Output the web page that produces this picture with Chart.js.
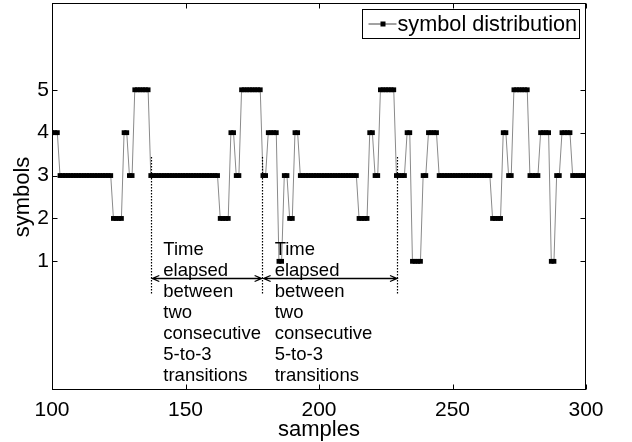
<!DOCTYPE html>
<html>
<head>
<meta charset="utf-8">
<script src="https://cdn.jsdelivr.net/npm/chart.js@4.4.0/dist/chart.umd.min.js"></script>
<style>
html,body{margin:0;padding:0;background:#fff;}
#wrap{width:632px;height:442px;}
</style>
</head>
<body>
<div id="wrap"><canvas id="c" width="632" height="442"></canvas></div>
<script>
'use strict';
// ------------------------------------------------------------
// data
// ------------------------------------------------------------
var firstSample = 100;
var symbols = [
  4,4,4,3,3,3,3,3,3,3,   // 100-109
  3,3,3,3,3,3,3,3,3,3,   // 110-119
  3,3,3,2,2,2,2,4,4,3,   // 120-129
  3,5,5,5,5,5,5,3,3,3,   // 130-139
  3,3,3,3,3,3,3,3,3,3,   // 140-149
  3,3,3,3,3,3,3,3,3,3,   // 150-159
  3,3,3,2,2,2,2,4,4,3,   // 160-169
  3,5,5,5,5,5,5,5,5,3,   // 170-179
  3,4,4,4,4,1,1,3,3,2,   // 180-189
  2,4,4,3,3,3,3,3,3,3,   // 190-199
  3,3,3,3,3,3,3,3,3,3,   // 200-209
  3,3,3,3,3,2,2,2,2,4,   // 210-219
  4,3,3,5,5,5,5,5,5,3,   // 220-229
  3,3,3,4,4,1,1,1,1,3,   // 230-239
  3,4,4,4,4,3,3,3,3,3,   // 240-249
  3,3,3,3,3,3,3,3,3,3,   // 250-259
  3,3,3,3,3,2,2,2,2,4,   // 260-269
  4,3,3,5,5,5,5,5,5,3,   // 270-279
  3,3,3,4,4,4,4,1,1,3,   // 280-289
  3,4,4,4,4,3,3,3,3,3,   // 290-299
  3                      // 300
];
var xTicks = [100, 150, 200, 250, 300];
var yTicks = [1, 2, 3, 4, 5];
var transitions = [137, 178.7, 229.4];   // 5-to-3 transitions marked with dotted lines
var noteText = ['Time', 'elapsed', 'between', 'two', 'consecutive', '5-to-3', 'transitions'];

// ------------------------------------------------------------
var FONT = "'Liberation Sans', Arial, Helvetica, sans-serif";
var points = symbols.map(function(v, i) { return {x: firstSample + i, y: v}; });

// box, inward ticks (matlab look)
var framePlugin = {
  id: 'frame',
  afterDraw: function(chart) {
    var ctx = chart.ctx, a = chart.chartArea, xs = chart.scales.x, ys = chart.scales.y;
    var L = Math.round(a.left) + 0.5, R = Math.round(a.right) - 0.5;
    var T = Math.round(a.top) - 0.5, B = Math.round(a.bottom) - 0.5;
    ctx.save();
    ctx.strokeStyle = '#000'; ctx.lineWidth = 1;
    ctx.strokeRect(L, T, R - L, B - T);
    ctx.beginPath();
    xTicks.forEach(function(t) {
      var px = Math.round(xs.getPixelForValue(t)) + 0.5;
      ctx.moveTo(px, B); ctx.lineTo(px, B - 5);
      ctx.moveTo(px, T); ctx.lineTo(px, T + 5);
    });
    yTicks.forEach(function(t) {
      var py = Math.round(ys.getPixelForValue(t)) + 0.5;
      ctx.moveTo(L, py); ctx.lineTo(L + 5, py);
      ctx.moveTo(R, py); ctx.lineTo(R - 5, py);
    });
    ctx.stroke();
    ctx.restore();
  }
};

function arrowHead(ctx, x, y, dir) {
  ctx.moveTo(x + dir * 7, y - 3);
  ctx.lineTo(x, y);
  ctx.lineTo(x + dir * 7, y + 3);
}

// dotted markers, double arrows and the two text notes
var notesPlugin = {
  id: 'notes',
  afterDatasetsDraw: function(chart) {
    var ctx = chart.ctx, xs = chart.scales.x, ys = chart.scales.y;
    ctx.save();
    ctx.strokeStyle = '#000'; ctx.lineWidth = 1.2;
    ctx.setLineDash([1.5, 1.5]);
    ctx.beginPath();
    transitions.forEach(function(t) {
      var px = Math.round(xs.getPixelForValue(t)) + 0.5;
      ctx.moveTo(px, ys.getPixelForValue(3.43));
      ctx.lineTo(px, ys.getPixelForValue(0.23));
    });
    ctx.stroke();
    ctx.setLineDash([]);
    ctx.lineWidth = 1.3;
    var ay = Math.round(ys.getPixelForValue(0.6)) + 0.5;
    ctx.beginPath();
    for (var i = 0; i < transitions.length - 1; i++) {
      var x1 = xs.getPixelForValue(transitions[i]) + 1.5;
      var x2 = xs.getPixelForValue(transitions[i + 1]) - 0.5;
      ctx.moveTo(x1, ay); ctx.lineTo(x2, ay);
      arrowHead(ctx, x1, ay, 1);
      arrowHead(ctx, x2, ay, -1);
    }
    ctx.stroke();

    ctx.fillStyle = '#000';
    ctx.font = '18.5px ' + FONT;
    ctx.textAlign = 'left'; ctx.textBaseline = 'alphabetic';
    var base = ys.getPixelForValue(1.14);
    for (var k = 0; k < transitions.length - 1; k++) {
      var tx = xs.getPixelForValue(transitions[k]) + 12.5;
      noteText.forEach(function(s, j) { ctx.fillText(s, tx, base + j * 20.9); });
    }
    ctx.restore();
  }
};

var legendPlugin = {
  id: 'boxLegend',
  afterDraw: function(chart) {
    var ctx = chart.ctx, a = chart.chartArea;
    var ds = chart.data.datasets[0];
    var w = 217, h = 29;
    var x0 = Math.round(a.right) - 7 - w + 0.5, y0 = Math.round(a.top) + 5 + 0.5;
    ctx.save();
    ctx.fillStyle = '#fff';
    ctx.fillRect(x0, y0, w, h);
    ctx.strokeStyle = '#000'; ctx.lineWidth = 1;
    ctx.strokeRect(x0, y0, w, h);
    var my = y0 + h / 2;
    ctx.strokeStyle = '#444';
    ctx.beginPath(); ctx.moveTo(x0 + 6, my); ctx.lineTo(x0 + 34, my); ctx.stroke();
    ctx.fillStyle = '#000';
    ctx.fillRect(x0 + 18, my - 2.5, 5, 5);
    ctx.font = '21.7px ' + FONT;
    ctx.textBaseline = 'middle'; ctx.textAlign = 'left';
    ctx.fillText(ds.label, x0 + 35, my + 1);
    ctx.restore();
  }
};

new Chart(document.getElementById('c'), {
  type: 'line',
  data: {
    datasets: [{
      label: 'symbol distribution',
      data: points,
      borderColor: '#8a8a8a',
      borderWidth: 1,
      pointStyle: 'rect',
      pointRadius: 3.4,
      pointBorderWidth: 0,
      pointBackgroundColor: '#000',
      tension: 0
    }]
  },
  options: {
    responsive: false,
    animation: false,
    devicePixelRatio: 1,
    layout: {padding: {top: 0, right: 46, left: 0, bottom: 0}},
    plugins: {legend: {display: false}, tooltip: {enabled: false}},
    scales: {
      x: {
        type: 'linear', min: 100, max: 300,
        afterBuildTicks: function(s) { s.ticks = xTicks.map(function(v) { return {value: v}; }); },
        afterFit: function(s) { s.height = 52; },
        grid: {display: false, drawTicks: false},
        border: {display: false},
        ticks: {color: '#000', padding: 8, maxRotation: 0, font: {family: FONT, size: 21}},
        title: {display: true, text: 'samples', color: '#000', padding: {top: 0, bottom: -1}, font: {family: FONT, size: 22}}
      },
      y: {
        type: 'linear', min: -2, max: 7,
        afterBuildTicks: function(s) { s.ticks = yTicks.map(function(v) { return {value: v}; }); },
        afterFit: function(s) { s.width = 52; s.paddingTop = 0; s.paddingBottom = 0; },
        grid: {display: false, drawTicks: false},
        border: {display: false},
        ticks: {color: '#000', padding: 3, font: {family: FONT, size: 21}},
        title: {display: true, text: 'symbols', color: '#000', padding: {top: 10, bottom: 0}, font: {family: FONT, size: 22}}
      }
    }
  },
  plugins: [framePlugin, notesPlugin, legendPlugin]
});
</script>
</body>
</html>
